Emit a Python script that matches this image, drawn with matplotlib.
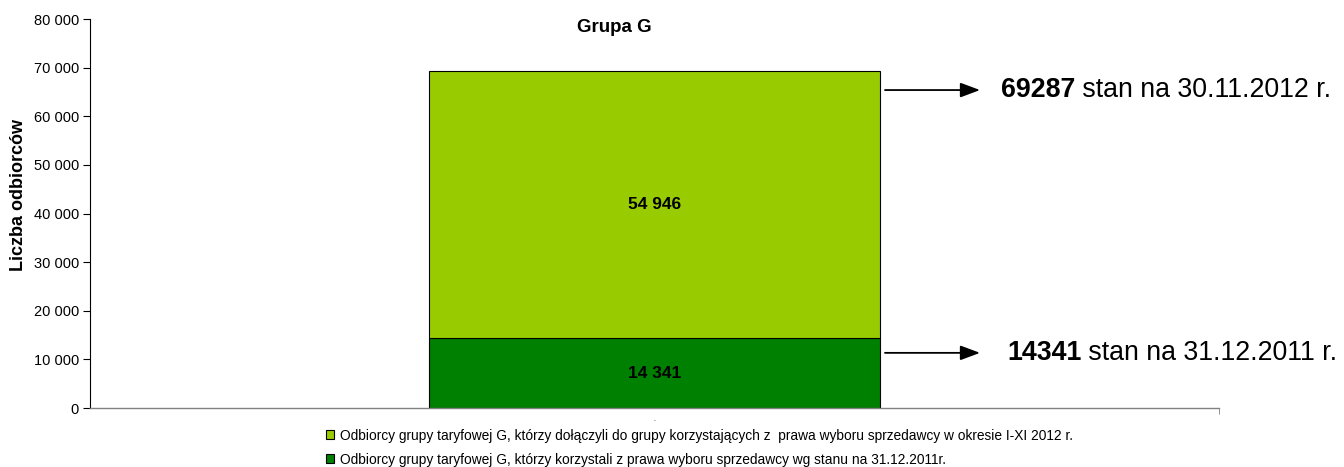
import matplotlib
matplotlib.use("Agg")
import matplotlib.pyplot as plt
from matplotlib.patches import Patch

plt.rcParams['font.family'] = ['Liberation Sans', 'DejaVu Sans']

categories = ["."]
base_2011 = [14341]
joined_2012 = [54946]
total_label = "69287"
base_label = "14341"
total_date = " stan na 30.11.2012 r."
base_date = " stan na 31.12.2011 r."
series_names = [
    "Odbiorcy grupy taryfowej G, którzy dołączyli do grupy korzystających z  prawa wyboru sprzedawcy w okresie I-XI 2012 r.",
    "Odbiorcy grupy taryfowej G, którzy korzystali z prawa wyboru sprzedawcy wg stanu na 31.12.2011r.",
]
yticks = list(range(0, 80001, 10000))

W, H = 1344, 467
fig = plt.figure(figsize=(W/100, H/100), dpi=100)
ax = fig.add_axes([90/W, 1-408/H, (1219-90)/W, (408-19)/H])

x = [0]
b1 = ax.bar(x, base_2011, width=0.4, color="#008000", edgecolor="black", linewidth=0.8)
b2 = ax.bar(x, joined_2012, bottom=base_2011, width=0.4, color="#99CC00", edgecolor="black", linewidth=0.8)

ax.set_xlim(-0.5, 0.5)
ax.set_ylim(0, 80000)
ax.set_yticks(yticks)
ax.set_yticklabels([f"{v:,}".replace(",", " ") for v in yticks], fontsize=10.5)
ax.set_xticks(x)
ax.set_xticklabels(categories, fontsize=5)
ax.tick_params(axis='x', which='major', length=0, pad=6)
ax.set_xticks([0.5], minor=True)
ax.tick_params(axis='x', which='minor', length=4, color="#808080", direction='out')
ax.tick_params(axis='y', length=5, direction='out', pad=3)
for s in ["top", "right"]:
    ax.spines[s].set_visible(False)
ax.spines["bottom"].set_color("#808080")
ax.spines["bottom"].set_linewidth(1.0)
ax.spines["left"].set_color("black")

for rect, v, bot in [(b1[0], base_2011[0], 0), (b2[0], joined_2012[0], base_2011[0])]:
    ax.text(rect.get_x() + rect.get_width()/2, bot + v/2, f"{v:,}".replace(",", " "),
            ha="center", va="center", fontsize=12.5, fontweight="bold")

fig.text(614/W, 1-27/H, "Grupa G", fontsize=13.5, fontweight="bold", ha="center", va="center")
fig.text(19/W, 1-195/H, "Liczba odbiorców", fontsize=13, fontweight="bold",
         rotation=90, ha="center", va="center")

total = base_2011[0] + joined_2012[0]
for yv, off, num, date, x0 in [(total, 3900, total_label, total_date, 1001),
                               (base_2011[0], 3000, base_label, base_date, 1007)]:
    yy = yv - off
    ax.annotate("", xy=((980-90)/1129, yy), xytext=((885-90)/1129, yy),
                xycoords=ax.get_yaxis_transform(), textcoords=ax.get_yaxis_transform(),
                arrowprops=dict(arrowstyle="-|>,head_length=0.75,head_width=0.28", color="black",
                                lw=1.3, mutation_scale=16, shrinkA=0, shrinkB=0))
    t1 = ax.text((x0-90)/1129, yy, num, fontsize=19.3, fontweight="bold", va="center", ha="left",
                 transform=ax.get_yaxis_transform())
    ax.annotate(date, xy=(1, 0), xycoords=t1, va="bottom", ha="left", fontsize=19.3)

handles = [Patch(facecolor="#99CC00", edgecolor="black", linewidth=0.8),
           Patch(facecolor="#008000", edgecolor="black", linewidth=0.8)]
fig.legend(handles, series_names, loc="upper left", bbox_to_anchor=(316/W, 1-419/H),
           frameon=False, handlelength=0.6, handleheight=0.6, handletextpad=0.45,
           labelspacing=0.72, borderpad=0.2, prop={'size': 9.9})

fig.savefig("out.png", dpi=100)
